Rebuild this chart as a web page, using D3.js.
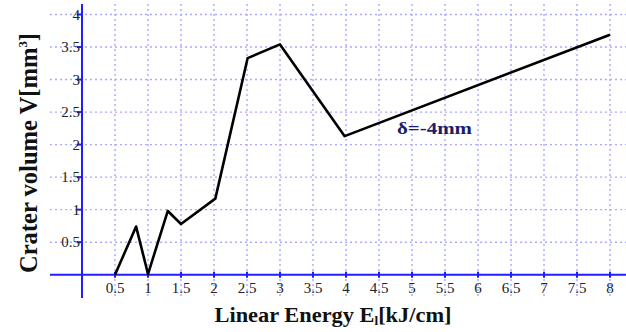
<!DOCTYPE html>
<meta charset="utf-8">
<style>
body { margin: 0; background: #fff; }
svg { display: block; }
text { font-family: "Liberation Serif", "Times New Roman", serif; font-weight: bold; }
.grid line { stroke: #a9a9ff; stroke-width: 1.4; stroke-dasharray: 2,3; }
.axis line, .axis path { stroke: #1f1fff; stroke-width: 2; }
</style>
<body>
<div id="chart"></div>
<script src="https://d3js.org/d3.v7.min.js"></script>
<script>

// values
var energy = [0.5, 0.82, 1.0, 1.3, 1.5, 2.02, 2.51, 3.0, 3.98, 8.0];
var volume = [0, 0.74, 0.01, 0.98, 0.78, 1.17, 3.33, 3.54, 2.13, 3.69];
var xTicks = [0.5, 1, 1.5, 2, 2.5, 3, 3.5, 4, 4.5, 5, 5.5, 6, 6.5, 7, 7.5, 8];
var yTicks = [0.5, 1, 1.5, 2, 2.5, 3, 3.5, 4];

var W = 626, H = 332;

var x = d3.scaleLinear().domain([0, 8]).range([82, 610]);
var y = d3.scaleLinear().domain([0, 4]).range([274.7, 14.5]);

var svg = d3.select("#chart").append("svg")
    .attr("width", W)
    .attr("height", H);

// dotted grid
var grid = svg.append("g").attr("class", "grid");
grid.selectAll(".v").data(xTicks).enter().append("line")
    .attr("x1", d => x(d)).attr("x2", d => x(d))
    .attr("y1", 4).attr("y2", 298);
grid.selectAll(".h").data(yTicks).enter().append("line")
    .attr("x1", 50).attr("x2", W)
    .attr("y1", d => y(d)).attr("y2", d => y(d));

// axes (blue, crossing at origin)
var ax = svg.append("g").attr("class", "axis");
ax.append("line").attr("x1", 50).attr("x2", W).attr("y1", y(0)).attr("y2", y(0));
ax.append("line").attr("x1", x(0)).attr("x2", x(0)).attr("y1", 4).attr("y2", 298);
ax.selectAll(".xt").data(xTicks).enter().append("line")
    .attr("x1", d => x(d)).attr("x2", d => x(d))
    .attr("y1", y(0) - 3).attr("y2", y(0) + 3);
ax.selectAll(".yt").data(yTicks).enter().append("line")
    .attr("x1", x(0) - 5).attr("x2", x(0))
    .attr("y1", d => y(d)).attr("y2", d => y(d));

// tick labels
svg.selectAll(".xl").data(xTicks).enter().append("text")
    .attr("x", d => x(d)).attr("y", 293)
    .attr("text-anchor", "middle")
    .style("font-size", "15px").style("font-weight", "normal")
    .style("fill", "#222")
    .text(d => d);
svg.selectAll(".yl").data(yTicks).enter().append("text")
    .attr("x", 80).attr("y", d => y(d) + 5)
    .attr("text-anchor", "end")
    .style("font-size", "15px").style("font-weight", "normal")
    .style("fill", "#222")
    .text(d => d);

// the series
var pts = energy.map((e, i) => [e, volume[i]]);
svg.append("path")
    .datum(pts)
    .attr("fill", "none")
    .attr("stroke", "#000")
    .attr("stroke-width", 2.6)
    .attr("stroke-linejoin", "round")
    .attr("d", d3.line().x(d => x(d[0])).y(d => y(d[1])));

svg.append("text")
    .attr("x", 397).attr("y", 134)
    .attr("textLength", 75).attr("lengthAdjust", "spacingAndGlyphs")
    .style("font-size", "16px")
    .style("fill", "#1c1c6c")
    .text("δ=-4mm");

// axis titles
var yt = svg.append("text")
    .attr("transform", "translate(37,153) rotate(-90)")
    .attr("text-anchor", "middle")
    .attr("textLength", 240).attr("lengthAdjust", "spacingAndGlyphs")
    .style("font-size", "25px")
    .style("fill", "#111");
yt.append("tspan").text("Crater volume V[mm");
yt.append("tspan").attr("dy", -10).style("font-size", "13px").text("3");
yt.append("tspan").attr("dy", 10).text("]");

var xt = svg.append("text")
    .attr("x", 333).attr("y", 322)
    .attr("text-anchor", "middle")
    .attr("textLength", 237).attr("lengthAdjust", "spacingAndGlyphs")
    .style("font-size", "22px")
    .style("fill", "#111");
xt.append("tspan").text("Linear Energy E");
xt.append("tspan").attr("dy", 3).style("font-size", "13px").text("l");
xt.append("tspan").attr("dy", -3).text("[kJ/cm]");

</script>
</body>
